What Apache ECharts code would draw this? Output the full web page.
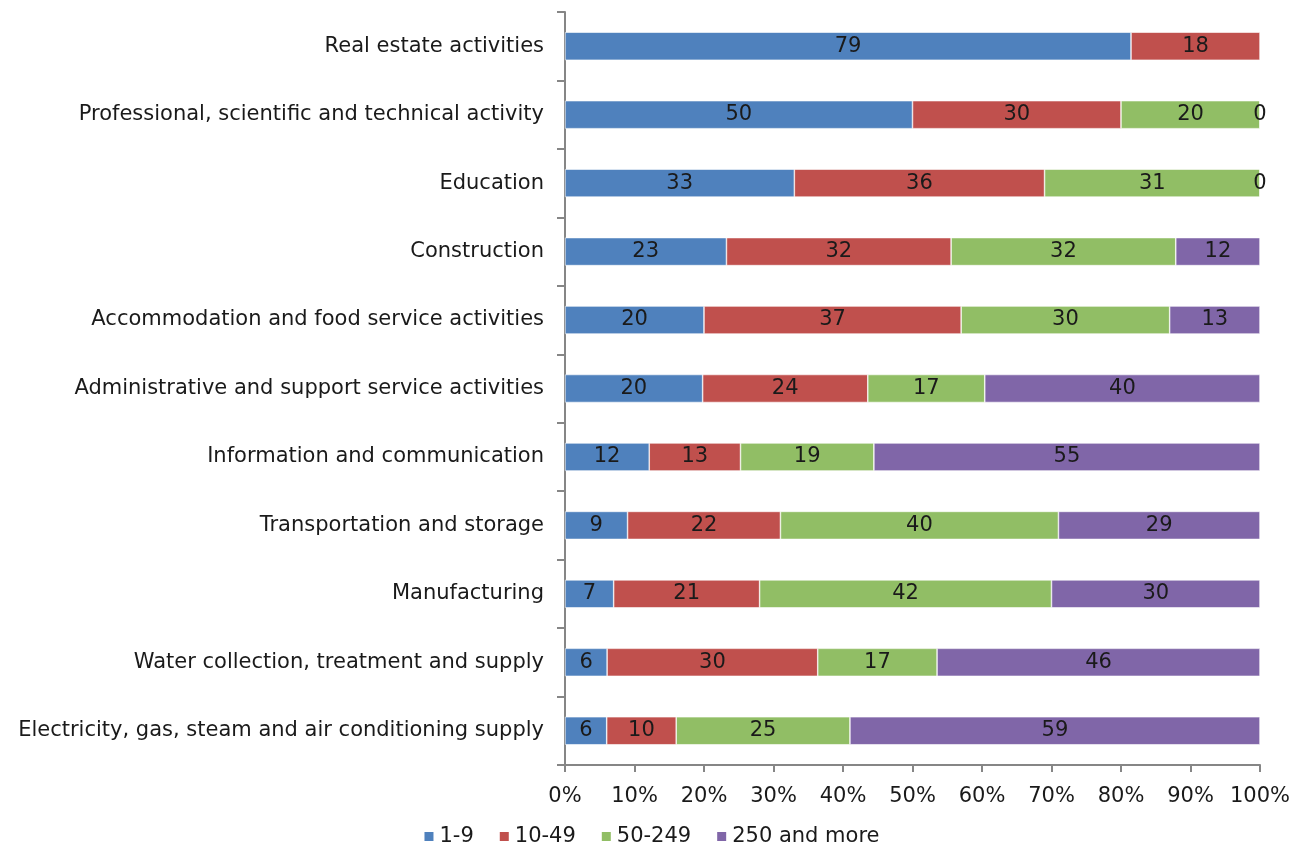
<!DOCTYPE html>
<html>
<head>
<meta charset="utf-8">
<script src="https://cdn.jsdelivr.net/npm/echarts@6/dist/echarts.min.js"></script>
<style>
  html, body { margin: 0; padding: 0; background: #fff; }
  #chart { width: 1302px; height: 849px; }
</style>
</head>
<body>
<div id="chart"></div>
<script>
// categories listed bottom to top
const categories = [
  'Electricity, gas, steam and air conditioning supply',
  'Water collection, treatment and supply',
  'Manufacturing',
  'Transportation and storage',
  'Information and communication',
  'Administrative and support service activities',
  'Accommodation and food service activities',
  'Construction',
  'Education',
  'Professional, scientific and technical activity',
  'Real estate activities'
]
const seriesNames = ['1-9', '10-49', '50-249', '250 and more']
const size1to9 = [6, 6, 7, 9, 12, 20, 20, 23, 33, 50, 79]
const size10to49 = [10, 30, 21, 22, 13, 24, 37, 32, 36, 30, 18]
const size50to249 = [25, 17, 42, 40, 19, 17, 30, 32, 31, 20, null]
const size250plus = [59, 46, 30, 29, 55, 40, 13, 12, 0, 0, null]
const xTicks = ['0%', '10%', '20%', '30%', '40%', '50%', '60%', '70%', '80%', '90%', '100%']

const colors = ['#4F81BD', '#C0504D', '#91BE65', '#8066A8']
const raw = [size1to9, size10to49, size50to249, size250plus]

// 100% stacked: share of each row total
const totals = categories.map((c, i) => raw.reduce((s, arr) => s + (arr[i] || 0), 0))

const font = '"DejaVu Sans", Verdana, sans-serif'
const fs = 21

let myChart = echarts.init(document.getElementById('chart'))
myChart.setOption({
  animation: false,
  textStyle: { fontFamily: font },
  grid: {
    left: 565,
    right: 42,
    top: 12,
    bottom: 84
  },
  legend: {
    bottom: -3,
    left: 'center',
    itemWidth: 11,
    itemHeight: 11,
    itemGap: 24,
    icon: 'rect',
    textStyle: { fontSize: fs, color: '#1a1a1a', fontFamily: font },
    data: seriesNames
  },
  xAxis: {
    type: 'value',
    min: 0,
    max: 100,
    interval: 10,
    splitLine: { show: false },
    axisLine: { show: true, lineStyle: { color: '#868686', width: 2 } },
    axisTick: { show: true, length: 7, lineStyle: { color: '#868686', width: 2 } },
    axisLabel: {
      margin: 21,
      fontSize: fs,
      color: '#1a1a1a',
      fontFamily: font,
      formatter: v => xTicks[Math.round(v / 10)]
    }
  },
  yAxis: {
    type: 'category',
    data: categories,
    axisLine: { show: true, lineStyle: { color: '#868686', width: 2 } },
    axisTick: { show: true, length: 8, lineStyle: { color: '#868686', width: 2 } },
    axisLabel: {
      margin: 21,
      fontSize: fs,
      color: '#1a1a1a',
      fontFamily: font
    }
  },
  series: raw.map((arr, k) => ({
    name: seriesNames[k],
    type: 'bar',
    stack: 'total',
    barWidth: 28,
    itemStyle: { color: colors[k], borderColor: '#fff', borderWidth: 0.6 },
    label: {
      show: true,
      position: 'inside',
      fontSize: fs,
      color: '#1a1a1a',
      fontFamily: font,
      formatter: p => p.data.raw
    },
    data: arr.map((v, i) => v == null ? null : { value: v / totals[i] * 100, raw: v })
  }))
})
</script>
</body>
</html>
